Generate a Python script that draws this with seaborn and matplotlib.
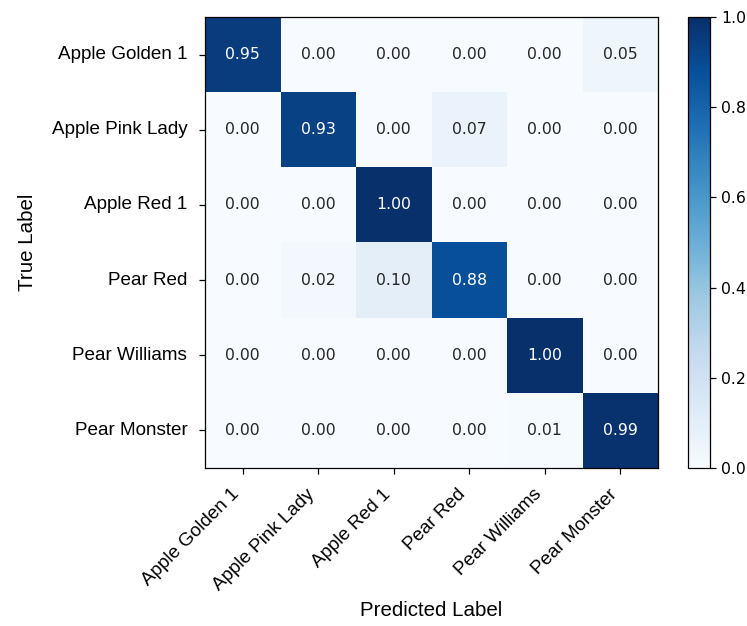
import numpy as np
import pandas as pd
import matplotlib
matplotlib.use("Agg")
import matplotlib.pyplot as plt
import seaborn as sns

# Class names (rows: true label, columns: predicted label)
classes = ["Apple Golden 1", "Apple Pink Lady", "Apple Red 1",
           "Pear Red", "Pear Williams", "Pear Monster"]

# Normalised confusion-matrix rows
row_apple_golden = [0.95, 0.00, 0.00, 0.00, 0.00, 0.05]
row_apple_pink = [0.00, 0.93, 0.00, 0.07, 0.00, 0.00]
row_apple_red = [0.00, 0.00, 1.00, 0.00, 0.00, 0.00]
row_pear_red = [0.00, 0.02, 0.10, 0.88, 0.00, 0.00]
row_pear_williams = [0.00, 0.00, 0.00, 0.00, 1.00, 0.00]
row_pear_monster = [0.00, 0.00, 0.00, 0.00, 0.01, 0.99]

cm = pd.DataFrame(
    [row_apple_golden, row_apple_pink, row_apple_red,
     row_pear_red, row_pear_williams, row_pear_monster],
    index=classes, columns=classes,
)

sns.set_theme(style="white")
label_font = "Liberation Sans"
plt.rcParams["font.family"] = ["DejaVu Sans"]

W, H = 747, 626
fig = plt.figure(figsize=(W / 100, H / 100), dpi=100)

ax = fig.add_axes([205 / W, (H - 468) / H, 453 / W, 451 / H])
cax = fig.add_axes([688 / W, (H - 468) / H, 22 / W, 451 / H])

sns.heatmap(
    cm, ax=ax, cbar_ax=cax, cmap="Blues", vmin=0, vmax=1,
    annot=True, fmt=".2f", annot_kws={"fontsize": 11.3},
    linewidths=0,
)

# frame around the matrix
for side in ax.spines.values():
    side.set_visible(True)
    side.set_color("black")
    side.set_linewidth(0.9)

ax.tick_params(axis="both", which="major", length=4.2, width=0.9,
               color="black", bottom=True, left=True, pad=8.5)
ax.set_xticklabels(classes, rotation=45, ha="right",
                   fontsize=13.6, family=label_font, color="black")
ax.set_yticklabels(classes, rotation=0, fontsize=13.6, family=label_font,
                   color="black")

ax.set_xlabel("Predicted Label", fontsize=14.8, family=label_font,
              color="black")
ax.set_ylabel("True Label", fontsize=14.8, family=label_font, color="black")
ax.xaxis.set_label_coords(0.5, -0.296)
ax.yaxis.set_label_coords(-0.37, 0.5)

# colorbar styling
cbar = ax.collections[0].colorbar
cbar.outline.set_visible(True)
cbar.outline.set_edgecolor("black")
cbar.outline.set_linewidth(0.9)
cbar.set_ticks([0.0, 0.2, 0.4, 0.6, 0.8, 1.0])
cbar.ax.tick_params(length=4, width=0.9, color="black", right=True,
                    labelsize=11.3, labelcolor="black", pad=4)

fig.savefig("out.png", dpi=100)
